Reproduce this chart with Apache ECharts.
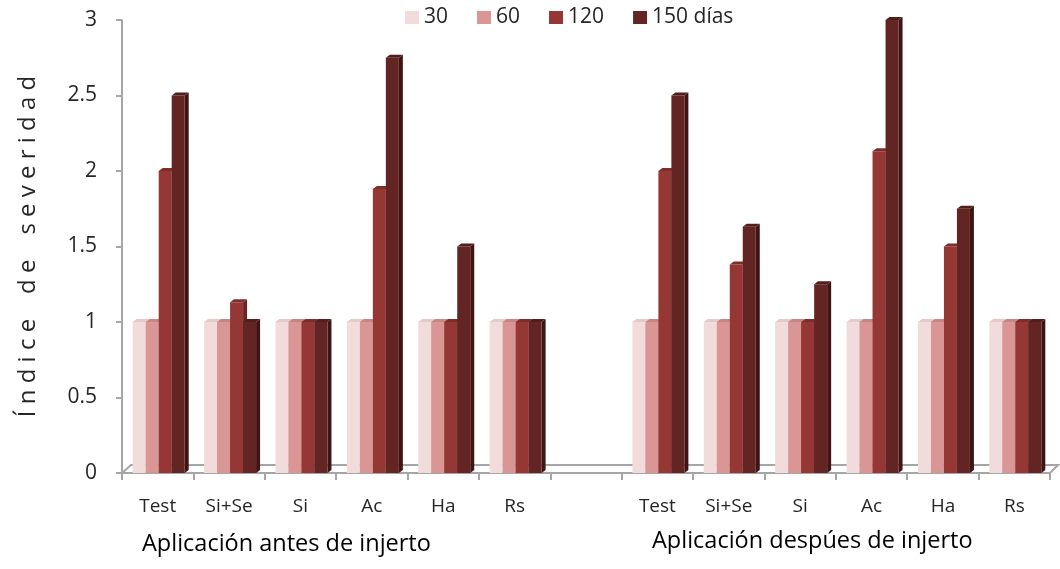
<!DOCTYPE html>
<html>
<head>
<meta charset="utf-8">
<script src="https://cdn.jsdelivr.net/npm/echarts@6/dist/echarts.min.js"></script>
<style>html,body{margin:0;padding:0;background:#fff}#c{width:1060px;height:569px}</style>
</head>
<body>
<div id="c"></div>
<script>
var categories = ['Test','Si+Se','Si','Ac','Ha','Rs','','Test','Si+Se','Si','Ac','Ha','Rs'];
var seriesNames = ['30','60','120','150 días'];
var d30  = [1,1,1,1,1,1,null,1,1,1,1,1,1];
var d60  = [1,1,1,1,1,1,null,1,1,1,1,1,1];
var d120 = [2,1.13,1,1.88,1,1,null,2,1.38,1,2.13,1.5,1];
var d150 = [2.5,1,1,2.75,1.5,1,null,2.5,1.63,1.25,3,1.75,1];
var yTicks = [0,0.5,1,1.5,2,2.5,3];
var groupLabels = ['Aplicación antes de injerto','Aplicación despúes de injerto'];

var frontColors = ['#F2DCDB','#DA9694','#953735','#632523'];
var topColors   = ['#E6C9C8','#C98583','#7E2D2B','#521D1B'];
var sideColors  = ['#D9BDBC','#B97270','#6A2422','#3E1513'];
var allData = [d30, d60, d120, d150];

var FONT = 'Open Sans';
var BW = 13, DX = 4, DY = 3;
var G = { left: 122, right: 10, top: 20, bottom: 96 };

function makeRender(si) {
  return function (params, api) {
    var v = api.value(1);
    if (v == null || isNaN(v)) return null;
    var cat = api.value(0);
    var top = api.coord([cat, v]);
    var base = api.coord([cat, 0]);
    var x0 = top[0] - 2 * BW + si * BW + 1;
    var x1 = x0 + BW;
    var yt = top[1], yb = base[1];
    return {
      type: 'group',
      children: [
        { type: 'polygon', shape: { points: [[x1, yt], [x1 + DX, yt - DY], [x1 + DX, yb - DY], [x1, yb]] },
          style: { fill: sideColors[si] } },
        { type: 'rect', shape: { x: x0, y: yt, width: BW, height: yb - yt },
          style: { fill: frontColors[si] } },
        { type: 'polygon', shape: { points: [[x0, yt], [x0 + DX, yt - DY], [x1 + DX, yt - DY], [x1, yt]] },
          style: { fill: topColors[si] } }
      ]
    };
  };
}

var series = seriesNames.map(function (n, si) {
  return {
    name: n,
    type: 'custom',
    renderItem: makeRender(si),
    itemStyle: { color: frontColors[si] },
    encode: { x: 0, y: 1 },
    data: allData[si].map(function (v, i) { return [i, v == null ? '-' : v]; }),
    z: 3 + si
  };
});

var W = 1060, H = 569;
var floorY = H - G.bottom, floorR = W - G.right;

var chart = echarts.init(document.getElementById('c'));
chart.setOption({
  animation: false,
  textStyle: { fontFamily: FONT },
  legend: {
    data: seriesNames,
    top: 2, left: 400,
    icon: 'rect', itemWidth: 14, itemHeight: 13, itemGap: 29,
    textStyle: { fontSize: 21, color: '#262626', fontFamily: FONT }
  },
  grid: G,
  xAxis: {
    type: 'category',
    data: categories,
    boundaryGap: true,
    axisLine: { lineStyle: { color: '#A6A6A6', width: 2 } },
    axisTick: { show: true, length: 7, interval: 0, lineStyle: { color: '#A6A6A6', width: 2 } },
    axisLabel: { interval: 0, margin: 24, fontSize: 19, color: '#262626', fontFamily: FONT },
    splitLine: { show: false }
  },
  yAxis: {
    type: 'value',
    min: 0, max: 3, interval: 0.5,
    name: 'Í n d i c e    d e    s e v e r i d a d',
    nameLocation: 'middle',
    nameGap: 82,
    nameTextStyle: { fontSize: 24, color: '#262626', fontFamily: FONT },
    axisLine: { show: true, lineStyle: { color: '#A6A6A6', width: 2 } },
    axisTick: { show: true, length: 6, lineStyle: { color: '#A6A6A6', width: 2 } },
    axisLabel: { fontSize: 21, color: '#262626', margin: 25, fontFamily: FONT,
      formatter: function (v) { return yTicks.indexOf(v) >= 0 ? String(v) : ''; } },
    splitLine: { show: false }
  },
  graphic: [
    { type: 'polyline', z: 1, shape: { points: [[G.left, floorY], [G.left + 9, floorY - 8], [floorR + 8, floorY - 8], [floorR, floorY]] },
      style: { stroke: '#A6A6A6', lineWidth: 2, fill: null } },
    { type: 'text', left: 142, top: 532, style: { text: groupLabels[0], fontSize: 23.5, fill: '#000', fontFamily: FONT } },
    { type: 'text', left: 652, top: 529, style: { text: groupLabels[1], fontSize: 23.5, fill: '#000', fontFamily: FONT } }
  ],
  series: series
});
</script>
</body>
</html>
